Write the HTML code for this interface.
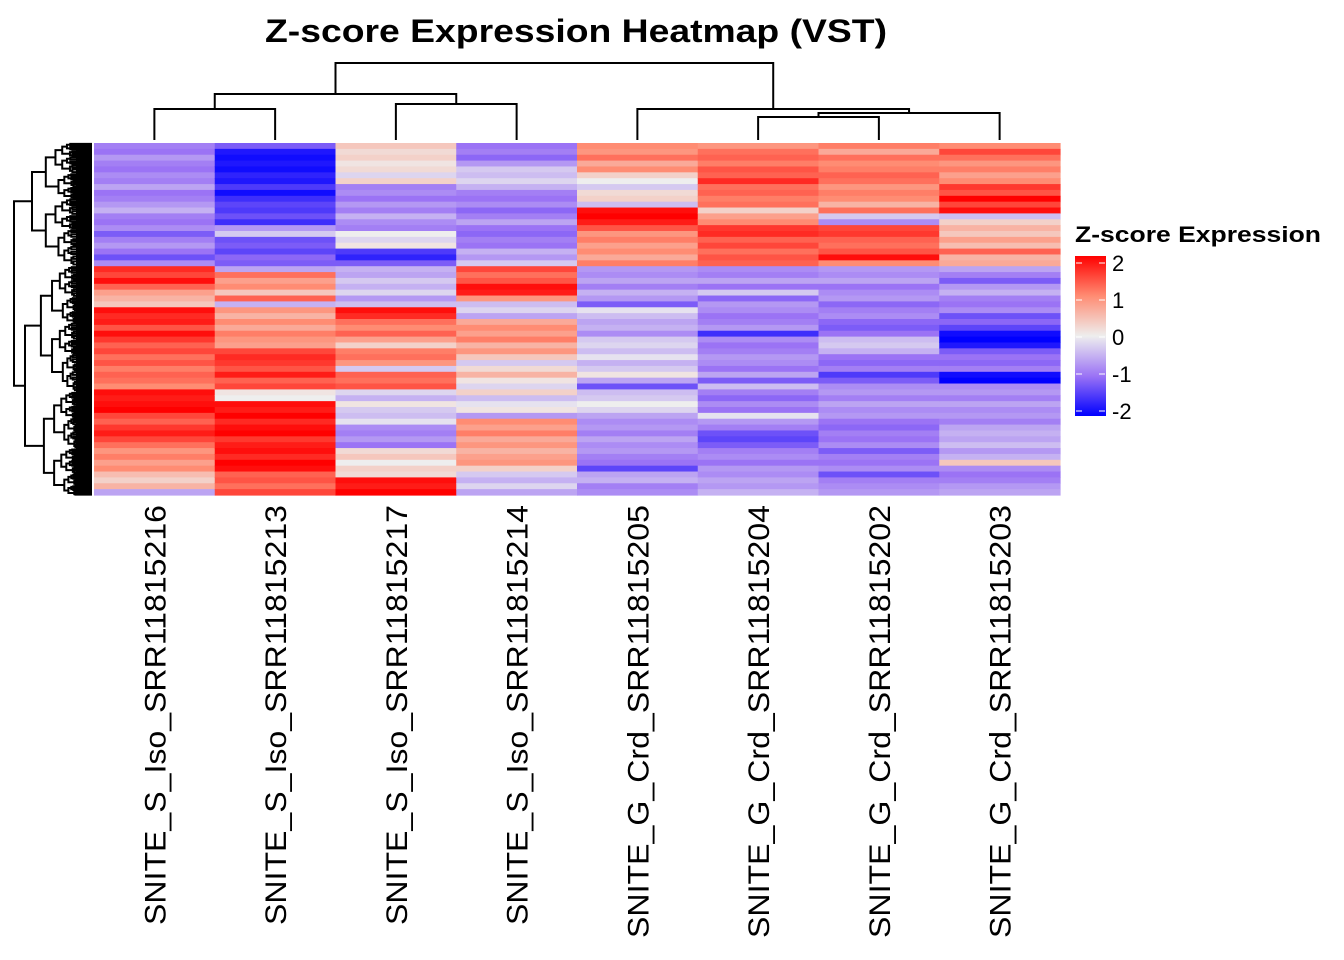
<!DOCTYPE html>
<html><head><meta charset="utf-8"><style>
html,body{margin:0;padding:0;background:#fff;}
svg{display:block;font-family:"Liberation Sans",Arial,sans-serif;}
</style></head><body>
<svg id="chart" width="1344" height="960" viewBox="0 0 1344 960" xmlns="http://www.w3.org/2000/svg">
<text x="576" y="42" text-anchor="middle" font-size="32" font-weight="bold" textLength="622" lengthAdjust="spacingAndGlyphs">Z-score Expression Heatmap (VST)</text>
<g id="topdendro" stroke="#000" stroke-width="2" fill="none"></g>
<g id="leftdendro" stroke="#000" stroke-width="2" fill="none"></g>
<g id="cells"></g>
<g id="labels"></g>
<g id="legend">
<text x="1075" y="242" font-size="22" font-weight="bold" textLength="246" lengthAdjust="spacingAndGlyphs">Z-score Expression</text>
<defs><linearGradient id="lg" x1="0" y1="1" x2="0" y2="0">
<stop offset="0" stop-color="#0000ff"/><stop offset="0.25" stop-color="#9b73f5"/><stop offset="0.5" stop-color="#eeeeee"/><stop offset="0.75" stop-color="#ff8c73"/><stop offset="1" stop-color="#ff0000"/></linearGradient></defs>
<rect x="1075" y="256" width="31" height="160" fill="url(#lg)"/>
</g>
</svg>
<script>
const columns = ["SNITE_S_Iso_SRR11815216","SNITE_S_Iso_SRR11815213","SNITE_S_Iso_SRR11815217","SNITE_S_Iso_SRR11815214","SNITE_G_Crd_SRR11815205","SNITE_G_Crd_SRR11815204","SNITE_G_Crd_SRR11815202","SNITE_G_Crd_SRR11815203"];
const col216 = [-0.9,-1.0,-0.7,-0.9,-1.0,-0.8,-0.9,-0.6,-1.0,-0.9,-0.7,-0.5,-0.9,-1.0,-0.8,-1.2,-0.9,-0.7,-1.0,-1.3,-0.8,1.7,1.5,1.9,1.3,0.8,0.6,0.4,1.9,1.7,1.8,1.4,1.9,1.6,1.3,1.5,1.2,1.4,1.1,1.3,1.2,1.0,1.9,1.8,1.9,2.0,1.5,1.3,1.6,1.8,1.5,1.2,0.9,1.1,0.8,1.0,0.5,0.3,0.6,-0.6];
const col213 = [-1.2,-1.8,-1.9,-1.8,-1.9,-1.7,-1.8,-1.5,-1.9,-1.6,-1.4,-1.5,-1.3,-1.6,-0.7,-0.3,-1.3,-1.2,-1.4,-1.1,-1.2,-0.6,1.2,0.8,1.0,0.4,1.3,-0.5,0.9,0.6,1.0,0.7,1.1,0.9,0.8,1.5,1.7,1.6,1.4,1.8,1.3,1.5,0.1,0.0,1.9,1.8,2.0,1.7,1.9,2.0,1.6,1.8,1.9,1.7,2.0,1.9,1.3,1.4,1.2,1.5];
const col217 = [0.4,0.2,0.3,0.1,0.2,-0.2,0.3,-0.9,-0.8,-1.0,-0.7,-0.9,-0.5,-0.8,-0.9,0.0,-0.2,0.1,-1.5,-1.7,-1.2,-0.5,-0.6,-0.3,-0.5,-0.2,-0.7,-0.4,1.9,1.7,1.2,1.0,1.3,0.8,0.3,1.1,1.2,0.9,-0.3,1.3,1.2,1.4,-0.2,-0.5,0.1,-0.3,-0.4,-0.1,-0.8,-0.9,-0.7,-1.0,0.2,0.4,0.0,0.3,0.2,1.9,1.8,2.0];
const col214 = [-1.0,-0.9,-1.1,-0.7,-0.3,-0.4,-0.2,-0.5,-0.9,-1.0,-0.8,-1.1,-0.9,-0.6,-1.0,-1.1,-0.9,-1.0,-0.5,-0.7,-0.3,1.5,1.2,1.4,1.9,1.8,0.9,-0.4,-0.2,-0.6,0.7,1.0,0.8,1.1,0.6,0.9,0.4,-0.3,0.2,0.6,0.1,-0.2,0.3,-0.4,-0.1,0.1,-0.7,1.0,0.8,1.1,0.7,0.9,0.6,0.8,0.9,0.3,-0.3,-0.5,-0.2,-0.6];
const col205 = [1.0,0.9,1.2,0.7,1.0,0.3,0.0,-0.3,0.2,0.3,-0.4,1.9,2.0,1.8,1.4,0.9,1.1,0.8,1.0,0.7,1.1,-0.7,-0.8,-0.6,-0.9,-0.5,-0.7,-1.2,-0.1,-0.4,-0.6,-0.5,-0.8,-0.3,-0.2,-0.4,-0.1,-0.5,-0.3,0.1,-0.6,-1.3,-0.4,-0.3,0.0,-0.2,-0.6,-0.8,-0.7,-0.9,-0.6,-0.8,-0.7,-0.9,-1.0,-1.4,-0.6,-0.5,-0.9,-0.8];
const col204 = [0.9,1.2,1.3,1.1,1.4,1.3,1.7,1.2,1.3,1.1,1.2,0.3,0.8,1.0,1.6,1.7,1.3,1.5,1.2,1.4,1.3,-0.8,-0.9,-0.6,-1.0,-0.3,-1.1,-0.7,-0.8,-1.0,-0.9,-0.7,-1.6,-0.8,-1.0,-0.9,-0.7,-0.8,-1.0,-0.6,-1.2,-0.4,-0.9,-1.1,-0.8,-1.0,-0.1,-0.7,-0.9,-1.3,-1.4,-1.2,-0.9,-0.8,-1.0,-0.7,-0.8,-0.6,-0.7,-0.5];
const col202 = [1.1,0.7,1.2,1.0,1.1,1.3,1.2,0.9,1.1,1.0,0.6,1.2,-0.3,-0.8,1.5,1.6,1.3,1.2,1.4,1.9,1.0,-0.7,-0.8,-0.6,-1.0,-0.8,-0.7,-1.1,-0.9,-0.8,-1.1,-1.2,-1.0,-0.4,-0.3,-0.5,-1.0,-1.1,-0.9,-1.5,-1.2,-0.8,-0.7,-0.9,-0.6,-0.8,-0.7,-1.0,-1.1,-0.9,-1.0,-0.8,-1.2,-0.9,-1.0,-0.8,-1.3,-0.9,-0.8,-0.7];
const col203 = [1.0,1.5,1.2,0.9,1.1,0.8,1.0,1.6,1.4,2.0,1.5,1.9,-0.4,0.3,0.6,0.4,0.8,0.5,1.3,0.6,0.7,-0.6,-0.9,-1.2,-0.7,-0.5,-0.9,-1.0,-0.8,-1.3,-1.1,-1.4,-1.9,-2.0,-1.8,-1.2,-1.0,-1.1,-0.9,-1.9,-2.0,-0.8,-0.7,-0.9,-0.6,-0.8,-0.7,-0.9,-0.6,-0.5,-0.6,-0.4,-0.7,-0.5,0.4,-0.8,-1.0,-0.9,-0.7,-0.6];
const legendTicks = [2,1,0,-1,-2];

const series = [col216,col213,col217,col214,col205,col204,col202,col203];
const NS = "http://www.w3.org/2000/svg";
const X0 = 94, X1 = 1060, Y0 = 143, Y1 = 495;
const nCol = columns.length, nRow = col216.length;
const cw = (X1 - X0) / nCol, rh = (Y1 - Y0) / nRow;
const xPos = i => X0 + i * cw;
const yPos = r => Y0 + r * rh;
const stops = [[-2,[0,0,255]],[-1,[155,115,245]],[0,[238,238,238]],[1,[255,140,115]],[2,[255,0,0]]];
function color(v){
  v = Math.max(-2, Math.min(2, v));
  for (let i = 0; i < stops.length - 1; i++) {
    const [a, ca] = stops[i], [b, cb] = stops[i+1];
    if (v <= b) { const t = (v - a) / (b - a);
      return "rgb(" + ca.map((c,k) => Math.round(c + (cb[k]-c)*t)).join(",") + ")"; }
  }
  return "rgb(255,0,0)";
}
function mk(tag, attrs, parent){ const e = document.createElementNS(NS, tag); for (const k in attrs) e.setAttribute(k, attrs[k]); parent.appendChild(e); return e; }

const cells = document.getElementById("cells");
series.forEach((vals, c) => {
  vals.forEach((v, r) => {
    const el = mk("rect", {x: xPos(c).toFixed(2), y: yPos(r).toFixed(2), width: (cw+0.6).toFixed(2), height: (rh+0.6).toFixed(2), fill: color(v)}, cells);
    
    
  });
});

const labels = document.getElementById("labels");
columns.forEach((name, c) => {
  const cx = xPos(c) + cw/2 + 11;
  const t = mk("text", {transform: "translate(" + cx.toFixed(1) + ",505) rotate(-90)", "text-anchor": "end", "font-size": "30", textLength: name.indexOf("_G_") > 0 ? "433" : "420", lengthAdjust: "spacingAndGlyphs"}, labels);
  t.textContent = name;
  
  
});

// column dendrogram
const td = document.getElementById("topdendro");
const cx = i => xPos(i) + cw/2;
function link(xa, ya, xb, yb, yj){ mk("path", {d: "M"+xa+","+ya+"V"+yj+"H"+xb+"V"+yb}, td); }
link(cx(0),140,cx(1),140,109);
link(cx(2),140,cx(3),140,104);
link((cx(0)+cx(1))/2,109,(cx(2)+cx(3))/2,104,94);
link(cx(5),140,cx(6),140,117);
link((cx(5)+cx(6))/2,117,cx(7),140,113);
link(cx(4),140,((cx(5)+cx(6))/2+cx(7))/2,113,109);
link(((cx(0)+cx(1))/2+(cx(2)+cx(3))/2)/2,94,(cx(4)+((cx(5)+cx(6))/2+cx(7))/2)/2,109,63);

// row dendrogram
const ld = document.getElementById("leftdendro");
mk("rect", {x: 76, y: Y0, width: 16, height: Y1-Y0, fill: "#000", stroke: "none"}, ld);
function tree(y0, y1, x, depth, flip){
  if (depth === 0) { return (y0+y1)/2; }
  const r = flip ? 0.55 : 0.45;
  const ym = y0 + (y1-y0)*r;
  const nx = x + (78 - x) * 0.3;
  const a = tree(y0, ym, nx, depth-1, !flip);
  const b = tree(ym, y1, nx + (depth%2 ? 3 : 0), depth-1, flip);
  const bx = nx + (depth%2 ? 3 : 0);
  mk("path", {d: "M"+(depth===1?92:nx)+","+a+"H"+x+"V"+b+"H"+(depth===1?92:bx)}, ld);
  return (a+b)/2;
}
const ySplit = yPos(21);
const topMid = tree(Y0, ySplit, 32, 6, false);
const botMid = tree(ySplit, Y1, 25, 7, true);
mk("path", {d: "M32,"+topMid+"H14V"+botMid+"H25"}, ld);

// legend ticks
const lg = document.getElementById("legend");
const lgY = v => 411 - (v + 2) / 4 * 148;
legendTicks.forEach(v => {
  const y = lgY(v);
  mk("line", {x1: 1076, x2: 1082, y1: y, y2: y, stroke: "#fff", "stroke-width": 1}, lg);
  mk("line", {x1: 1099, x2: 1105, y1: y, y2: y, stroke: "#fff", "stroke-width": 1}, lg);
  const t = mk("text", {x: 1112, y: y + 8, "font-size": "22"}, lg);
  t.textContent = v < 0 ? "-" + Math.abs(v) : String(v);
  
  
});
</script>
</body></html>
